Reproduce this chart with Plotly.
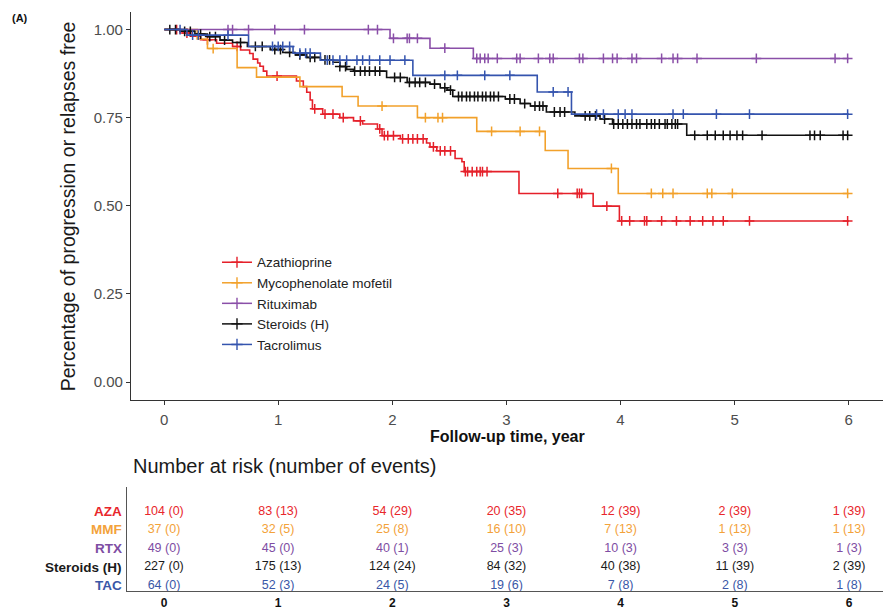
import numpy as np
import plotly.graph_objects as go

W, H = 895, 610
def px(x): return x / W
def py(y): return 1 - y / H

FONT = "Liberation Sans, Arial, Helvetica, sans-serif"
follow_end = 6.0

# ---------------- Kaplan-Meier step data (years, survival) ----------------
aza_times = [0, 0.14, 0.23, 0.32, 0.46, 0.60, 0.67, 0.75, 0.78, 0.82, 0.84, 0.87, 0.90, 1.16, 1.22,
             1.25, 1.28, 1.30, 1.39, 1.54, 1.66, 1.74, 1.87, 1.91, 2.07, 2.30, 2.33, 2.39, 2.55, 2.61,
             2.63, 3.11, 3.76, 3.99]
aza_surv = [1.0, 0.990, 0.981, 0.971, 0.961, 0.952, 0.942, 0.932, 0.916, 0.905, 0.896, 0.882, 0.868,
            0.854, 0.838, 0.822, 0.800, 0.775, 0.760, 0.750, 0.741, 0.732, 0.718, 0.699, 0.690, 0.678,
            0.667, 0.656, 0.634, 0.625, 0.597, 0.535, 0.499, 0.457]
aza_cens = [0.11, 0.20, 0.38, 0.64, 0.99, 1.32, 1.41, 1.48, 1.57, 1.72, 1.89, 1.93, 1.96, 2.01, 2.09,
            2.14, 2.18, 2.22, 2.27, 2.36, 2.42, 2.46, 2.51, 2.64, 2.66, 2.70, 2.74, 2.77, 2.79, 2.83,
            3.45, 3.62, 3.64, 3.66, 3.88, 4.01, 4.08, 4.21, 4.23, 4.36, 4.49, 4.61, 4.72, 4.81, 4.90,
            5.13, 5.99]

mmf_times = [0, 0.29, 0.38, 0.64, 0.81, 1.19, 1.56, 1.70, 2.22, 2.74, 3.34, 3.54, 3.98]
mmf_surv = [1.0, 0.973, 0.946, 0.892, 0.865, 0.838, 0.810, 0.783, 0.750, 0.711, 0.657, 0.606, 0.535]
mmf_cens = [0.43, 1.91, 2.29, 2.40, 2.44, 2.87, 3.12, 3.29, 3.92, 4.27, 4.37, 4.46, 4.76, 4.80,
            4.98, 5.99]

rtx_times = [0, 1.98, 2.33, 2.71]
rtx_surv = [1.0, 0.975, 0.947, 0.918]
rtx_cens = [0.56, 0.60, 0.74, 0.97, 1.23, 1.79, 1.87, 2.01, 2.13, 2.15, 2.22, 2.46, 2.74, 2.77, 2.81,
            2.84, 2.92, 3.09, 3.12, 3.28, 3.38, 3.41, 3.64, 3.67, 3.85, 3.93, 3.97, 4.10, 4.14, 4.36,
            4.46, 4.50, 4.67, 5.19, 5.88, 5.99]

ster_times = [0, 0.14, 0.27, 0.38, 0.49, 0.60, 0.73, 0.93, 1.04, 1.15, 1.25, 1.37, 1.48, 1.54, 1.60,
              1.66, 1.95, 2.13, 2.33, 2.42, 2.48, 2.53, 2.99, 3.12, 3.21, 3.35, 3.60, 3.82, 3.93, 4.58]
ster_surv = [1.0, 0.995, 0.987, 0.980, 0.970, 0.963, 0.952, 0.943, 0.935, 0.928, 0.921, 0.914, 0.907,
             0.895, 0.887, 0.882, 0.864, 0.850, 0.845, 0.835, 0.828, 0.810, 0.803, 0.790, 0.783,
             0.766, 0.755, 0.746, 0.732, 0.700]
ster_cens = [0.05, 0.10, 0.18, 0.23, 0.32, 0.40, 0.45, 0.53, 0.67, 0.80, 0.86, 0.97, 1.02, 1.10, 1.19,
             1.28, 1.32, 1.41, 1.45, 1.54, 1.59, 1.67, 1.72, 1.76, 1.80, 1.85, 1.89, 2.02, 2.07, 2.15,
             2.20, 2.24, 2.29, 2.37, 2.46, 2.51, 2.58, 2.61, 2.65, 2.68, 2.72, 2.75, 2.79, 2.82, 2.86,
             2.89, 2.93, 3.03, 3.07, 3.16, 3.25, 3.29, 3.32, 3.42, 3.47, 3.51, 3.69, 3.73, 3.78, 3.86,
             3.94, 3.98, 4.02, 4.06, 4.10, 4.14, 4.17, 4.23, 4.27, 4.30, 4.34, 4.39, 4.41, 4.45, 4.48,
             4.50, 4.65, 4.76, 4.83, 4.90, 4.96, 5.02, 5.07, 5.24, 5.66, 5.70, 5.75, 5.95, 5.99]

tac_times = [0, 0.20, 0.74, 1.13, 1.37, 2.18, 3.27, 3.57]
tac_surv = [1.0, 0.984, 0.952, 0.933, 0.913, 0.870, 0.823, 0.760]
tac_cens = [0.14, 0.25, 0.30, 0.56, 0.95, 1.00, 1.04, 1.10, 1.19, 1.24, 1.28, 1.43, 1.48, 1.54, 1.60,
            1.69, 1.74, 1.80, 1.89, 1.98, 2.11, 2.46, 2.57, 2.81, 3.03, 3.41, 3.54, 3.79, 3.85, 3.98,
            4.04, 4.10, 4.46, 4.55, 4.84, 5.13, 5.99]

# ---------------- Number at risk table ----------------
risk_times = [0, 1, 2, 3, 4, 5, 6]
aza_n = [104, 83, 54, 20, 12, 2, 1];      aza_ev = [0, 13, 29, 35, 39, 39, 39]
mmf_n = [37, 32, 25, 16, 7, 1, 1];        mmf_ev = [0, 5, 8, 10, 13, 13, 13]
rtx_n = [49, 45, 40, 25, 10, 3, 1];       rtx_ev = [0, 0, 1, 3, 3, 3, 3]
ster_n = [227, 175, 124, 84, 40, 11, 2];  ster_ev = [0, 13, 24, 32, 38, 39, 39]
tac_n = [64, 52, 24, 19, 7, 2, 1];        tac_ev = [0, 3, 5, 6, 8, 8, 8]

x_ticks = [0, 1, 2, 3, 4, 5, 6]
y_ticks = [0, 0.25, 0.5, 0.75, 1.0]
y_ticktext = ["0.00", "0.25", "0.50", "0.75", "1.00"]

series = [
    ("Azathioprine", "AZA", aza_times, aza_surv, aza_cens, aza_n, aza_ev, "#E5202A", "#E8262B"),
    ("Mycophenolate mofetil", "MMF", mmf_times, mmf_surv, mmf_cens, mmf_n, mmf_ev, "#F2A12B", "#F3A23A"),
    ("Rituximab", "RTX", rtx_times, rtx_surv, rtx_cens, rtx_n, rtx_ev, "#8A4FA8", "#7E4DA3"),
    ("Steroids (H)", "Steroids (H)", ster_times, ster_surv, ster_cens, ster_n, ster_ev, "#111111", "#1A1A1A"),
    ("Tacrolimus", "TAC", tac_times, tac_surv, tac_cens, tac_n, tac_ev, "#3454AE", "#3A57A7"),
]

fig = go.Figure()

def km_at(times, surv, t):
    idx = np.searchsorted(np.array(times), np.array(t), side="right") - 1
    return list(np.array(surv)[idx])

for name, short, t, s, c, n, ev, col, tcol in series:
    xs = list(t) + [follow_end]
    ys = list(s) + [s[-1]]
    fig.add_trace(go.Scatter(x=xs, y=ys, mode="lines", line=dict(color=col, width=1.6, shape="hv"),
                             showlegend=False, hoverinfo="skip", xaxis="x", yaxis="y"))
    fig.add_trace(go.Scatter(x=c, y=km_at(t, s, c), mode="markers",
                             marker=dict(symbol="cross-thin", size=7, line=dict(color=col, width=1.5)),
                             showlegend=False, hoverinfo="skip", xaxis="x", yaxis="y"))

for name, short, t, s, c, n, ev, col, tcol in series:
    fig.add_trace(go.Scatter(x=[None], y=[None], mode="lines+markers", name=name,
                             line=dict(color=col, width=1.5),
                             marker=dict(symbol="cross-thin", size=8, line=dict(color=col, width=1.4)),
                             xaxis="x", yaxis="y"))

# risk table text
nrows = len(series)
for i, (name, short, t, s, c, n, ev, col, tcol) in enumerate(series):
    row = nrows - 1 - i
    fig.add_trace(go.Scatter(x=risk_times, y=[row] * len(risk_times), mode="text",
                             text=[f"{a} ({b})" for a, b in zip(n, ev)],
                             textfont=dict(family=FONT, size=12.5, color=tcol),
                             showlegend=False, hoverinfo="skip", xaxis="x2", yaxis="y2"))
    fig.add_annotation(x=px(124), y=row, xref="paper", yref="y2", text=f"<b>{short}</b>",
                       showarrow=False, xanchor="right", yanchor="middle",
                       font=dict(family=FONT, size=13.5, color=tcol))

axis_col = "#333333"
fig.update_layout(
    width=W, height=H, margin=dict(l=0, r=0, t=0, b=0),
    paper_bgcolor="white", plot_bgcolor="white",
    font=dict(family=FONT),
    xaxis=dict(domain=[px(131), px(883)], range=[-0.29, 6.3], tickvals=x_ticks,
               showline=True, linecolor=axis_col, linewidth=1.3, ticks="outside", ticklen=4,
               tickcolor=axis_col, tickwidth=1.2, showgrid=False, zeroline=False,
               ticklabelstandoff=2,
               tickfont=dict(size=15, color="#4D4D4D"), anchor="y"),
    yaxis=dict(domain=[py(403), py(12)], range=[-0.05, 1.05], tickvals=y_ticks, ticktext=y_ticktext,
               showline=True, linecolor=axis_col, linewidth=1.3, ticks="outside", ticklen=4,
               tickcolor=axis_col, tickwidth=1.2, showgrid=False, zeroline=False,
               tickfont=dict(size=15, color="#4D4D4D"), anchor="x"),
    xaxis2=dict(domain=[px(127), px(883)], range=[-0.324, 6.298], tickvals=x_ticks,
                ticktext=[f"<b>{v}</b>" for v in x_ticks],
                showline=True, linecolor="#555555", linewidth=1.3, ticks="", showgrid=False,
                zeroline=False, tickfont=dict(size=12, color="#111111"), anchor="y2"),
    yaxis2=dict(domain=[py(596), py(491)], range=[-0.30, 5.32], showline=True, linecolor="#555555",
                linewidth=1.3, ticks="", showticklabels=False, showgrid=False, zeroline=False,
                anchor="x2"),
    legend=dict(x=px(217), y=py(249), xanchor="left", yanchor="top", bgcolor="rgba(0,0,0,0)",
                font=dict(size=13.5, color="#222222")),
    showlegend=True,
)

fig.add_annotation(x=px(68), y=py(208), xref="paper", yref="paper", showarrow=False, textangle=-90,
                   xanchor="center", yanchor="middle",
                   text="Percentage of progression or relapses free",
                   font=dict(family=FONT, size=19.5, color="#1A1A1A"))
fig.add_annotation(x=px(507), y=py(440), xref="paper", yref="paper", showarrow=False,
                   xanchor="center", yanchor="middle",
                   text="<b>Follow-up time, year</b>", font=dict(family=FONT, size=16, color="#111111"))
fig.add_annotation(x=px(10), y=py(18), xref="paper", yref="paper", showarrow=False, xanchor="left",
                   yanchor="middle",
                   text="<b>(A)</b>", font=dict(family=FONT, size=11, color="#111111"))
fig.add_annotation(x=px(131), y=py(470), xref="paper", yref="paper", showarrow=False, xanchor="left",
                   yanchor="middle",
                   text="Number at risk (number of events)", font=dict(family=FONT, size=20, color="#1A1A1A"))

# remove the default 8px page margin so the 895x610 figure fills the window exactly
fig.write_html("out.html", config={"displayModeBar": False},
               post_script="document.body.style.margin='0px';document.body.style.overflow='hidden';")
